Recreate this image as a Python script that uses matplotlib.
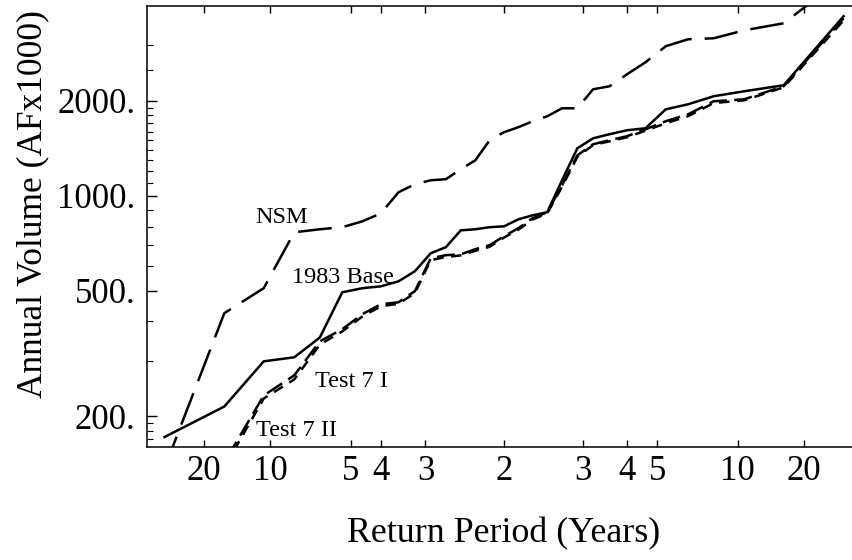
import matplotlib
matplotlib.use("Agg")
import matplotlib.pyplot as plt
from matplotlib.ticker import FixedLocator, FixedFormatter, NullFormatter
from statistics import NormalDist

plt.rcParams['font.family'] = ['Liberation Serif', 'DejaVu Serif']

# Ranked annual volumes (AF x 1000), 31 years, smallest to largest
base_1983 = [172, 215, 299, 308, 356, 495, 510, 517, 536, 577, 658, 688, 778, 784,
             796, 801, 843, 868, 888, 1121, 1416, 1523, 1569, 1615, 1639, 1882,
             1952, 2070, 2147, 2243, 3712]
nsm = [137, 425, 510, 767, 784, 796, 831, 881, 1027, 1089, 1121, 1130, 1215, 1297,
       1502, 1592, 1651, 1725, 1789, 1896, 1896, 2178, 2227, 2430, 2653, 2982,
       3138, 3160, 3350, 3526, 4932]
test7_i = [110, 143, 233, 270, 346, 378, 422, 454, 460, 499, 634, 649, 653, 678,
           698, 745, 790, 850, 888, 1081, 1345, 1458, 1502, 1546, 1627, 1725,
           1815, 1995, 2025, 2227, 3656]
test7_ii = [105, 138, 228, 262, 338, 372, 415, 447, 455, 492, 626, 640, 648, 670,
            690, 738, 782, 842, 880, 1070, 1330, 1450, 1490, 1535, 1610, 1700,
            1790, 1970, 2010, 2210, 3600]

# Return-period ticks: dry side (non-exceedance), median, wet side (exceedance)
dry_periods = [20, 10, 5, 4, 3]
median_period = 2
wet_periods = [3, 4, 5, 10, 20]

y_major = [200, 500, 1000, 2000]
y_major_labels = ['200.', '500.', '1000.', '2000.']
y_minor = [170, 180, 190, 300, 400, 600, 700, 800, 900,
           1100, 1200, 1300, 1400, 1500, 1600, 1700, 1800, 1900, 2500, 3000]

nd = NormalDist()


def plotting_positions(n):
    # Weibull positions i/(n+1) on a normal probability scale
    return [nd.inv_cdf(i / (n + 1)) for i in range(1, n + 1)]


xpos = plotting_positions(len(base_1983))

fig = plt.figure(figsize=(8.52, 5.6), dpi=100)
ax = fig.add_axes([146.7 / 852, 113 / 560, 714.6 / 852, 441 / 560])

lw = 1.8
ax.plot(xpos, base_1983, color='black', lw=lw, solid_joinstyle='miter')
ax.plot(xpos, nsm, color='black', lw=lw, dashes=(13.5, 5.2))
ax.plot(xpos, test7_i, color='black', lw=lw, dashes=(7.2, 2.9))
ax.plot(xpos, test7_ii, color='black', lw=lw, dashes=(4.2, 3))

ax.set_yscale('log')
ax.set_ylim(160, 4000)
ax.set_xlim(nd.inv_cdf(0.025), nd.inv_cdf(0.975))

xticks = ([nd.inv_cdf(1 / t) for t in dry_periods] + [0.0]
          + [nd.inv_cdf(1 - 1 / t) for t in wet_periods])
xlabels = [str(t) for t in dry_periods] + [str(median_period)] + [str(t) for t in wet_periods]
ax.xaxis.set_major_locator(FixedLocator(xticks))
ax.xaxis.set_major_formatter(FixedFormatter(xlabels))
ax.xaxis.set_minor_locator(FixedLocator([]))

ax.yaxis.set_major_locator(FixedLocator(y_major))
ax.yaxis.set_major_formatter(FixedFormatter(y_major_labels))
ax.yaxis.set_minor_locator(FixedLocator(y_minor))
ax.yaxis.set_minor_formatter(NullFormatter())

ax.tick_params(axis='x', which='major', direction='in', top=True, bottom=True,
               length=5, width=1, labelsize=25, pad=5.5)
ax.tick_params(axis='y', which='major', direction='in', left=True, right=False,
               length=7, width=1, labelsize=25, pad=8)
ax.tick_params(axis='y', which='minor', direction='in', left=True, right=False,
               length=4, width=0.8)
for side in ax.spines.values():
    side.set_linewidth(1.1)
ax.spines['right'].set_visible(False)

ax.set_xlabel('Return Period (Years)', fontsize=25.8)
ax.xaxis.set_label_coords(0.5, -0.16)
ax.set_ylabel('Annual Volume (AFx1000)', fontsize=25.5)
ax.yaxis.set_label_coords(-0.1367, 0.551)

# Curve labels
ax.text(-1.366, 819, 'NSM', fontsize=17.5, ha='left', va='baseline')
ax.text(-1.163, 529, '1983 Base', fontsize=17.5, ha='left', va='baseline')
ax.text(-1.037, 248, 'Test 7 I', fontsize=17.5, ha='left', va='baseline')
ax.text(-1.360, 174, 'Test 7 II', fontsize=17.5, ha='left', va='baseline')

fig.savefig('out.png', dpi=100)
